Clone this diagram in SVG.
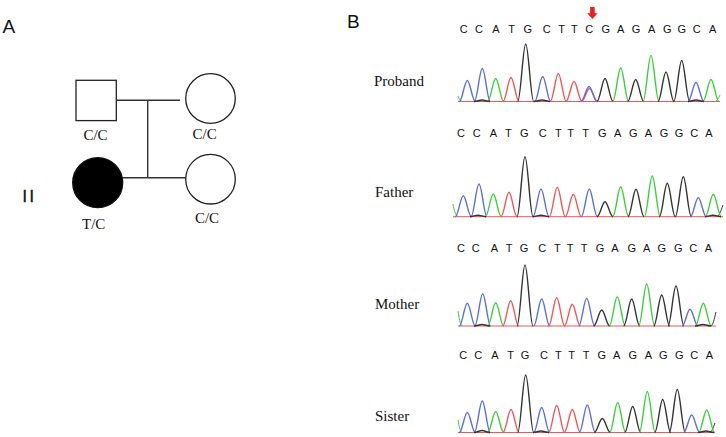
<svg xmlns="http://www.w3.org/2000/svg" width="726" height="437" viewBox="0 0 726 437">
<style>
.sans{font-family:"Liberation Sans",Arial,sans-serif;fill:#111}
.serif{font-family:"Liberation Serif","Times New Roman",serif;fill:#111}
.seq{font-family:"Liberation Sans",Arial,sans-serif;font-size:11px;fill:#111;text-anchor:middle}
.lbl{font-family:"Liberation Serif","Times New Roman",serif;font-size:15px;fill:#111}
.gt{font-family:"Liberation Serif","Times New Roman",serif;font-size:15px;fill:#111;text-anchor:middle}
.node{fill:#fff;stroke:#222;stroke-width:1.3}
.aff{fill:#000;stroke:#111;stroke-width:1.3}
.line{stroke:#333;stroke-width:1.4;fill:none}
use{fill:none;stroke-width:1.4}
.C{stroke:#5a70e0}
.A{stroke:#3ccf3c}
.T{stroke:#ef5656}
.G{stroke:#333}
.base{fill:none;stroke-width:1}
</style>
<defs>
<path id="pk" d="M-8,0 C-5,0 -2.8,-1 0,-1 C2.8,-1 5,0 8,0" fill="none" vector-effect="non-scaling-stroke"/>
</defs>

<!-- Panel A -->
<text class="sans" x="2.5" y="33.3" font-size="19">A</text>
<text class="sans" x="22.5" y="202" font-size="16" letter-spacing="2.5" stroke="#111" stroke-width="0.4">II</text>

<g id="connectors">
<path class="line" d="M116.3,100.3 H180"/>
<path class="line" d="M147.7,100.3 V177.7"/>
<path class="line" d="M122.7,177.7 H185.7"/>
</g>

<g id="father">
<rect class="node" x="76" y="80.3" width="40.3" height="40.3"/>
<text class="gt" x="95.5" y="140">C/C</text>
</g>
<g id="mother">
<circle class="node" cx="210.5" cy="98.5" r="24.8"/>
<text class="gt" x="204.7" y="139">C/C</text>
</g>
<g id="proband">
<circle class="aff" cx="97.7" cy="182.7" r="25"/>
<text class="gt" x="93.7" y="229">T/C</text>
</g>
<g id="sister">
<circle class="node" cx="210.5" cy="179.2" r="24.8"/>
<text class="gt" x="207" y="223">C/C</text>
</g>

<!-- Panel B -->
<text class="sans" x="347" y="28" font-size="19">B</text>
<path fill="#e8201e" d="M590.1,7 H594.7 V13.3 H597.6 L592.4,19 L587.2,13.3 H590.1 Z"/>

<!-- Proband -->
<g id="chrom-proband">
<g class="seq">
<text x="463.7" y="32.7">C</text><text x="479" y="32.7">C</text><text x="496" y="32.7">A</text><text x="511.7" y="32.7">T</text><text x="527.7" y="32.7">G</text><text x="546.7" y="32.7">C</text><text x="561.7" y="32.7">T</text><text x="574.3" y="32.7">T</text><text x="589.3" y="32.7">C</text><text x="605.7" y="32.7">G</text><text x="620.7" y="32.7">A</text><text x="636" y="32.7">G</text><text x="651.7" y="32.7">A</text><text x="667.3" y="32.7">G</text><text x="681.7" y="32.7">G</text><text x="696.7" y="32.7">C</text><text x="712.7" y="32.7">A</text>
</g>
<text class="lbl" x="374" y="86">Proband</text>
<path class="base T" d="M458,101.5 H720"/>
<path class="base A" d="M458,96 C459,99 460,101 462,101.5"/>
<path class="base A" d="M715,101.5 C717,101 718,99 720,95"/>
<use href="#pk" class="C" transform="translate(467.3,101.5) scale(1,21)"/>
<use href="#pk" class="C" transform="translate(482.3,101.5) scale(1,33)"/>
<use href="#pk" class="A" transform="translate(495.7,101.5) scale(1,23)"/>
<use href="#pk" class="T" transform="translate(511,101.5) scale(1,24)"/>
<use href="#pk" class="G" transform="translate(525.7,101.5) scale(1,57.5)"/>
<use href="#pk" class="C" transform="translate(542.7,101.5) scale(1,25)"/>
<use href="#pk" class="T" transform="translate(558.3,101.5) scale(1,28)"/>
<use href="#pk" class="T" transform="translate(574,101.5) scale(1,20)"/>
<use href="#pk" class="T" transform="translate(589.5,101.5) scale(1,13)"/>
<use href="#pk" class="C" transform="translate(589,101.5) scale(1,15)"/>
<use href="#pk" class="G" transform="translate(605,101.5) scale(1,23)"/>
<use href="#pk" class="A" transform="translate(620.7,101.5) scale(1,33.5)"/>
<use href="#pk" class="G" transform="translate(635.7,101.5) scale(1,22)"/>
<use href="#pk" class="A" transform="translate(651,101.5) scale(1,46)"/>
<use href="#pk" class="G" transform="translate(666,101.5) scale(1,29.5)"/>
<use href="#pk" class="G" transform="translate(681.7,101.5) scale(1,41)"/>
<use href="#pk" class="C" transform="translate(696,101.5) scale(1,19)"/>
<use href="#pk" class="A" transform="translate(711,101.5) scale(1,22)"/>
<use href="#pk" class="G" transform="translate(482,101.5) scale(1,1.5)"/>
<use href="#pk" class="G" transform="translate(542,101.5) scale(1,1.5)"/>
<use href="#pk" class="G" transform="translate(696,101.5) scale(1,1.5)"/>
</g>

<!-- Father -->
<g id="chrom-father">
<g class="seq">
<text x="461" y="136.7">C</text><text x="476.7" y="136.7">C</text><text x="493.3" y="136.7">A</text><text x="508.3" y="136.7">T</text><text x="524.3" y="136.7">G</text><text x="542.7" y="136.7">C</text><text x="558.3" y="136.7">T</text><text x="570.7" y="136.7">T</text><text x="585.7" y="136.7">T</text><text x="602.3" y="136.7">G</text><text x="617.7" y="136.7">A</text><text x="633.3" y="136.7">G</text><text x="648.3" y="136.7">A</text><text x="664" y="136.7">G</text><text x="679" y="136.7">G</text><text x="694.3" y="136.7">C</text><text x="709" y="136.7">A</text>
</g>
<text class="lbl" x="375" y="197.3">Father</text>
<path class="base T" d="M453,216.7 H723"/>
<path class="base A" d="M453,204 C454,210 455.5,215 458,216.7"/>
<path class="base G" d="M717,216.7 C719,216 720.5,212 723,205"/>
<use href="#pk" class="C" transform="translate(463.3,216.7) scale(1,21)"/>
<use href="#pk" class="C" transform="translate(479,216.7) scale(1,32.7)"/>
<use href="#pk" class="A" transform="translate(493.3,216.7) scale(1,22.7)"/>
<use href="#pk" class="T" transform="translate(509,216.7) scale(1,24.4)"/>
<use href="#pk" class="G" transform="translate(525,216.7) scale(1,60)"/>
<use href="#pk" class="C" transform="translate(541,216.7) scale(1,27.7)"/>
<use href="#pk" class="T" transform="translate(557.3,216.7) scale(1,29.4)"/>
<use href="#pk" class="T" transform="translate(573.3,216.7) scale(1,22.4)"/>
<use href="#pk" class="C" transform="translate(589.3,216.7) scale(1,27.7)"/>
<use href="#pk" class="G" transform="translate(605,216.7) scale(1,15)"/>
<use href="#pk" class="A" transform="translate(620.7,216.7) scale(1,30)"/>
<use href="#pk" class="G" transform="translate(636,216.7) scale(1,27.4)"/>
<use href="#pk" class="A" transform="translate(652.3,216.7) scale(1,40.7)"/>
<use href="#pk" class="G" transform="translate(667.3,216.7) scale(1,33.4)"/>
<use href="#pk" class="G" transform="translate(683.3,216.7) scale(1,40)"/>
<use href="#pk" class="C" transform="translate(698.3,216.7) scale(1,19)"/>
<use href="#pk" class="A" transform="translate(713.3,216.7) scale(1,22.4)"/>
<use href="#pk" class="G" transform="translate(478,216.7) scale(1,1.5)"/>
<use href="#pk" class="G" transform="translate(541,216.7) scale(1,1.5)"/>
<use href="#pk" class="G" transform="translate(713,216.7) scale(1,1.5)"/>
</g>

<!-- Mother -->
<g id="chrom-mother">
<g class="seq">
<text x="461" y="252.3">C</text><text x="475.7" y="252.3">C</text><text x="494.3" y="252.3">A</text><text x="509" y="252.3">T</text><text x="524" y="252.3">G</text><text x="542.3" y="252.3">C</text><text x="557.3" y="252.3">T</text><text x="570" y="252.3">T</text><text x="584" y="252.3">T</text><text x="600" y="252.3">G</text><text x="615" y="252.3">A</text><text x="631.7" y="252.3">G</text><text x="646.7" y="252.3">A</text><text x="661.7" y="252.3">G</text><text x="678.3" y="252.3">G</text><text x="693.3" y="252.3">C</text><text x="708.3" y="252.3">A</text>
</g>
<text class="lbl" x="375" y="309.3">Mother</text>
<path class="base T" d="M458,326 H716"/>
<path class="base A" d="M458,311 C459,318 460,324 462,326"/>
<path class="base G" d="M711,326 C713,325 714,320 716,312"/>
<use href="#pk" class="C" transform="translate(467.3,326) scale(1,22.7)"/>
<use href="#pk" class="C" transform="translate(482.7,326) scale(1,32)"/>
<use href="#pk" class="A" transform="translate(495.7,326) scale(1,23.3)"/>
<use href="#pk" class="T" transform="translate(510.7,326) scale(1,25.3)"/>
<use href="#pk" class="G" transform="translate(525,326) scale(1,61)"/>
<use href="#pk" class="C" transform="translate(541.7,326) scale(1,27)"/>
<use href="#pk" class="T" transform="translate(556.7,326) scale(1,28.3)"/>
<use href="#pk" class="T" transform="translate(572.3,326) scale(1,21.7)"/>
<use href="#pk" class="C" transform="translate(586.7,326) scale(1,27.7)"/>
<use href="#pk" class="G" transform="translate(601.7,326) scale(1,16)"/>
<use href="#pk" class="A" transform="translate(617.3,326) scale(1,29.3)"/>
<use href="#pk" class="G" transform="translate(631.7,326) scale(1,27)"/>
<use href="#pk" class="A" transform="translate(646.7,326) scale(1,42)"/>
<use href="#pk" class="G" transform="translate(661.7,326) scale(1,31)"/>
<use href="#pk" class="G" transform="translate(676,326) scale(1,40)"/>
<use href="#pk" class="C" transform="translate(690,326) scale(1,16.7)"/>
<use href="#pk" class="A" transform="translate(703.3,326) scale(1,22.7)"/>
<use href="#pk" class="G" transform="translate(482,326) scale(1,1.5)"/>
<use href="#pk" class="G" transform="translate(703,326) scale(1,1.5)"/>
</g>

<!-- Sister -->
<g id="chrom-sister">
<g class="seq">
<text x="463.3" y="359.3">C</text><text x="478.3" y="359.3">C</text><text x="495" y="359.3">A</text><text x="510.7" y="359.3">T</text><text x="525" y="359.3">G</text><text x="544" y="359.3">C</text><text x="558.3" y="359.3">T</text><text x="571.7" y="359.3">T</text><text x="586" y="359.3">T</text><text x="601.7" y="359.3">G</text><text x="616.7" y="359.3">A</text><text x="632.7" y="359.3">G</text><text x="648.3" y="359.3">A</text><text x="663.3" y="359.3">G</text><text x="679.3" y="359.3">G</text><text x="694.3" y="359.3">C</text><text x="709.3" y="359.3">A</text>
</g>
<text class="lbl" x="375" y="420.7">Sister</text>
<path class="base T" d="M458,432.5 H715"/>
<path class="base A" d="M458,420 C459,426 460,431 462,432.5"/>
<path class="base G" d="M710,432.5 C712,431.5 713,428 715,423"/>
<use href="#pk" class="C" transform="translate(467.3,432.5) scale(1,20)"/>
<use href="#pk" class="C" transform="translate(482.3,432.5) scale(1,31.5)"/>
<use href="#pk" class="A" transform="translate(495.7,432.5) scale(1,21)"/>
<use href="#pk" class="T" transform="translate(511,432.5) scale(1,23)"/>
<use href="#pk" class="G" transform="translate(525.7,432.5) scale(1,57.5)"/>
<use href="#pk" class="C" transform="translate(541.7,432.5) scale(1,25)"/>
<use href="#pk" class="T" transform="translate(556.7,432.5) scale(1,27)"/>
<use href="#pk" class="T" transform="translate(572.3,432.5) scale(1,23)"/>
<use href="#pk" class="C" transform="translate(587.3,432.5) scale(1,27.5)"/>
<use href="#pk" class="G" transform="translate(602.3,432.5) scale(1,14)"/>
<use href="#pk" class="A" transform="translate(617.7,432.5) scale(1,30)"/>
<use href="#pk" class="G" transform="translate(632.7,432.5) scale(1,26)"/>
<use href="#pk" class="A" transform="translate(647.3,432.5) scale(1,41)"/>
<use href="#pk" class="G" transform="translate(662.7,432.5) scale(1,33)"/>
<use href="#pk" class="G" transform="translate(677.3,432.5) scale(1,43)"/>
<use href="#pk" class="C" transform="translate(691.7,432.5) scale(1,17.5)"/>
<use href="#pk" class="A" transform="translate(706.7,432.5) scale(1,22.5)"/>
<use href="#pk" class="G" transform="translate(482,432.5) scale(1,2)"/>
<use href="#pk" class="G" transform="translate(541,432.5) scale(1,1.5)"/>
<use href="#pk" class="G" transform="translate(706,432.5) scale(1,1.5)"/>
</g>
</svg>
